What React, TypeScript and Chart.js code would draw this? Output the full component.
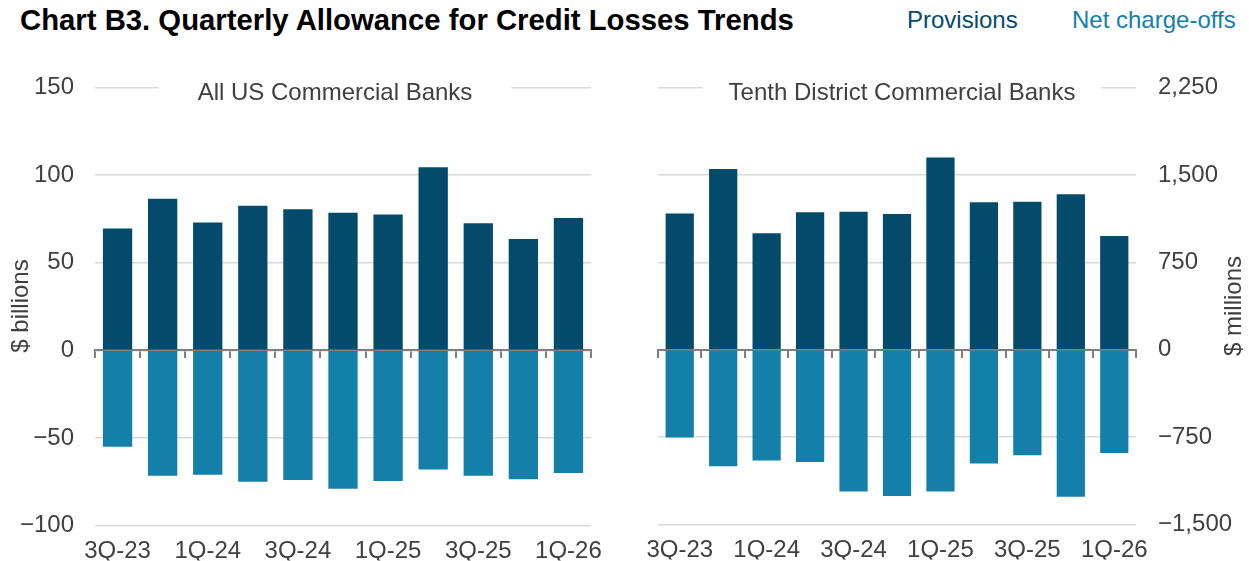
import React, { useEffect, useRef } from "react";
import { Chart, registerables } from "chart.js";

Chart.register(...registerables);

// ---- data ----
const quarters = ["3Q-23", "4Q-23", "1Q-24", "2Q-24", "3Q-24", "4Q-24", "1Q-25", "2Q-25", "3Q-25", "4Q-25", "1Q-26"];
const shownQuarterLabels = ["3Q-23", "1Q-24", "3Q-24", "1Q-25", "3Q-25", "1Q-26"];

// All US Commercial Banks, $ billions
const usProvisions = [69.5, 86.5, 73, 82.5, 80.5, 78.5, 77.5, 104.5, 72.5, 63.5, 75.5];
const usChargeOffs = [-55, -71.5, -71, -75, -74, -79, -74.5, -68, -71.5, -73.5, -70];
const usYTicks = [-100, -50, 0, 50, 100, 150];

// Tenth District Commercial Banks, $ millions
const tdProvisions = [1170, 1550, 1000, 1180, 1185, 1165, 1650, 1265, 1270, 1335, 975];
const tdChargeOffs = [-752, -1000, -950, -962, -1215, -1255, -1215, -975, -905, -1262, -885];
const tdYTicks = [-1500, -750, 0, 750, 1500, 2250];

const seriesNames = ["Provisions", "Net charge-offs"];

// ---- styles ----
const FONT = "'Liberation Sans', Arial, sans-serif";
const TEXT = "#404040";
const DARK = "#044b6b";
const LIGHT = "#1480aa";
const GRID = "#d9d9d9";
const AXIS = "#7f7f7f";

const fmt = (v: number) => (v < 0 ? "\u2212" : "") + Math.abs(v).toLocaleString("en-US");

const panelText = {
  id: "panelText",
  afterDraw(chart: any, _args: any, opts: any) {
    const ctx = chart.ctx;
    ctx.save();
    ctx.font = `24px ${FONT}`;
    // subtitle with white box interrupting the top gridline
    const w = ctx.measureText(opts.title).width;
    const x0 = opts.titleX - w / 2;
    ctx.fillStyle = "#ffffff";
    ctx.fillRect(x0 - opts.titlePad, opts.titleY - 22, w + 2 * opts.titlePad, 30);
    ctx.fillStyle = TEXT;
    ctx.textAlign = "left";
    ctx.textBaseline = "alphabetic";
    ctx.fillText(opts.title, x0, opts.titleY);
    // axis title, reading bottom to top
    ctx.translate(opts.axisX, opts.axisY);
    ctx.rotate(-Math.PI / 2);
    ctx.textAlign = "center";
    ctx.textBaseline = "middle";
    ctx.fillText(opts.axisTitle, 0, 0);
    ctx.restore();
  },
};

function makeConfig(p: any): any {
  return {
    type: "bar",
    data: {
      labels: quarters,
      datasets: [
        { label: seriesNames[0], data: p.prov, backgroundColor: DARK, barPercentage: 0.65, categoryPercentage: 1 },
        { label: seriesNames[1], data: p.nco, backgroundColor: LIGHT, barPercentage: 0.65, categoryPercentage: 1 },
      ],
    },
    plugins: [panelText],
    options: {
      responsive: false,
      animation: false,
      layout: { padding: { top: 87.5, left: p.padLeft, right: p.padRight, bottom: 0 } },
      plugins: {
        legend: { display: false },
        tooltip: { enabled: false },
        panelText: {
          title: p.title,
          titleX: p.titleX,
          titleY: 100,
          titlePad: p.titlePad,
          axisTitle: p.axisTitle,
          axisX: p.axisX,
          axisY: 306,
        },
      },
      scales: {
        x: {
          type: "category",
          stacked: true,
          offset: true,
          grid: { display: false },
          border: { display: false },
          ticks: {
            autoSkip: false,
            maxRotation: 0,
            padding: 3,
            color: TEXT,
            font: { family: FONT, size: 24 },
            callback: (_v: any, i: number) => (shownQuarterLabels.includes(quarters[i]) ? quarters[i] : ""),
          },
          afterFit: (s: any) => {
            s.height = 35;
          },
        },
        x0: {
          type: "category",
          axis: "x",
          position: { y: 0 },
          offset: true,
          z: 2,
          grid: { offset: true, drawOnChartArea: false, drawTicks: true, tickLength: 7, color: AXIS, lineWidth: 2 },
          border: { display: true, color: AXIS, width: 2 },
          ticks: { display: false, autoSkip: false },
        },
        y: {
          type: "linear",
          stacked: true,
          position: p.yPos,
          min: p.ticks[0],
          max: p.ticks[p.ticks.length - 1],
          afterBuildTicks: (s: any) => {
            s.ticks = p.ticks.map((v: number) => ({ value: v }));
          },
          afterFit: (s: any) => {
            s.width = p.yWidth;
          },
          grid: { color: GRID, lineWidth: 1.5, drawTicks: false },
          border: { display: false },
          ticks: {
            padding: p.tickPad,
            color: TEXT,
            font: { family: FONT, size: 24 },
            callback: (v: any) => fmt(Number(v)),
          },
        },
      },
    },
  };
}

function Panel({ params, left, width }: any) {
  const ref = useRef<HTMLCanvasElement | null>(null);
  useEffect(() => {
    const chart = new Chart(ref.current as HTMLCanvasElement, makeConfig(params));
    return () => chart.destroy();
  }, []);
  return (
    <canvas
      ref={ref}
      width={width}
      height={561}
      style={{ position: "absolute", left, top: 0, width, height: 561 }}
    />
  );
}

export default function App() {
  const usParams = {
    prov: usProvisions,
    nco: usChargeOffs,
    ticks: usYTicks,
    yPos: "left",
    yWidth: 95,
    tickPad: 21,
    padLeft: 0,
    padRight: 29,
    title: "All US Commercial Banks",
    titleX: 335,
    titlePad: 39,
    axisTitle: "$ billions",
    axisX: 21,
  };
  const tdParams = {
    prov: tdProvisions,
    nco: tdChargeOffs,
    ticks: tdYTicks,
    yPos: "right",
    yWidth: 113,
    tickPad: 22,
    padLeft: 38,
    padRight: 0,
    title: "Tenth District Commercial Banks",
    titleX: 282,
    titlePad: 26,
    axisTitle: "$ millions",
    axisX: 614,
  };
  return (
    <div style={{ position: "fixed", left: 0, top: 0, width: 1249, height: 561, background: "#fff", fontFamily: FONT }}>
      <div
        style={{
          position: "absolute",
          left: 20,
          top: 5,
          fontSize: 29.3,
          lineHeight: "29px",
          fontWeight: "bold",
          color: "#000",
          whiteSpace: "nowrap",
        }}
      >
        Chart B3. Quarterly Allowance for Credit Losses Trends
      </div>
      <div style={{ position: "absolute", left: 907, top: 8, fontSize: 24, lineHeight: "24px", color: DARK, whiteSpace: "nowrap" }}>
        {seriesNames[0]}
      </div>
      <div style={{ position: "absolute", left: 1072, top: 8, fontSize: 24, lineHeight: "24px", color: LIGHT, whiteSpace: "nowrap" }}>
        {seriesNames[1]}
      </div>
      <Panel params={usParams} left={0} width={620} />
      <Panel params={tdParams} left={620} width={629} />
    </div>
  );
}
